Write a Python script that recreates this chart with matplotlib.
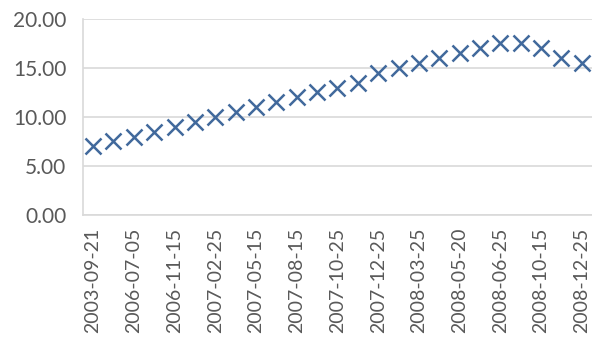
import matplotlib.pyplot as plt

# values (25 points, every other label shown)
values = [7.0, 7.5, 8.0, 8.5, 9.0, 9.5, 10.0, 10.5, 11.0, 11.5, 12.0, 12.5,
          13.0, 13.5, 14.5, 15.0, 15.5, 16.0, 16.5, 17.0, 17.5, 17.5, 17.0,
          16.0, 15.5]
tick_labels = ["2003-09-21", "2006-07-05", "2006-11-15", "2007-02-25",
               "2007-05-15", "2007-08-15", "2007-10-25", "2007-12-25",
               "2008-03-25", "2008-05-20", "2008-06-25", "2008-10-15",
               "2008-12-25"]
y_ticks = [0, 5, 10, 15, 20]

plt.rcParams['font.family'] = ['Lato', 'DejaVu Sans']

fig = plt.figure(figsize=(5.92, 3.44), dpi=100)
ax = fig.add_axes([0.140, 0.375, 0.86, 0.570])

x = list(range(len(values)))
ax.plot(x, values, linestyle='none', marker='x', markersize=11,
        markeredgewidth=1.8, color='#41699c')

ax.set_xlim(-0.5, len(values) - 0.5)
ax.set_ylim(0, 20)
ax.set_yticks(y_ticks)
ax.set_yticklabels(["%.2f" % v for v in y_ticks])
ax.set_xticks(x[::2])
ax.set_xticklabels(tick_labels, rotation=90)

ax.grid(axis='y', color='#d9d9d9', linewidth=1.2)
ax.set_axisbelow(True)
for s in ['top', 'right']:
    ax.spines[s].set_visible(False)
for s in ['left', 'bottom']:
    ax.spines[s].set_color('#d9d9d9')
    ax.spines[s].set_linewidth(1.2)

ax.tick_params(axis='y', length=0, pad=12, labelsize=15, labelcolor='#595959')
ax.tick_params(axis='x', length=0, pad=9, labelsize=14, labelcolor='#595959')

plt.savefig('out.png', dpi=100)
